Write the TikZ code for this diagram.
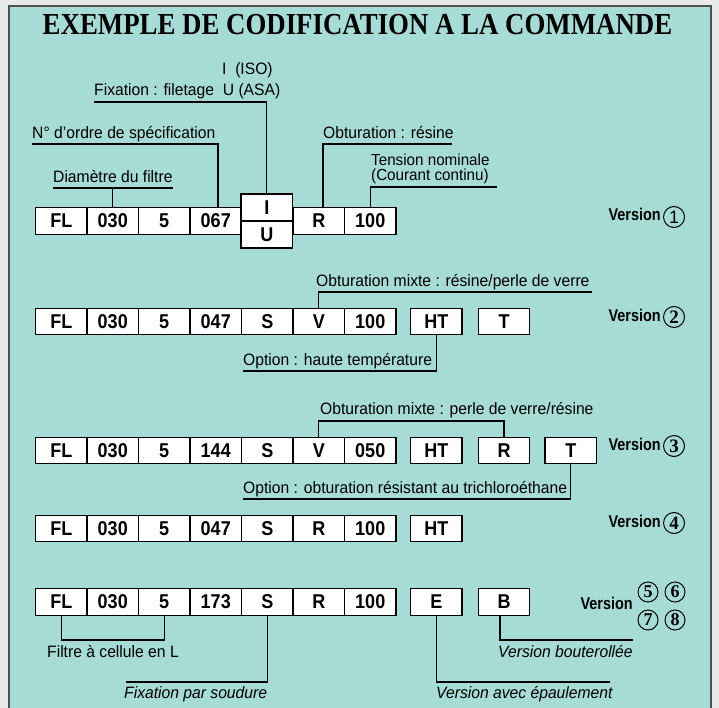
\documentclass[tikz,border=0pt]{standalone}
\usepackage{fontspec}
\setmainfont{Liberation Sans}
\newfontfamily\titlefont[FakeStretch=0.88]{Liberation Serif}
\newfontfamily\vfont[FakeStretch=0.85]{Liberation Sans}
\newfontfamily\labfont[FakeStretch=0.95]{Liberation Sans}
\newfontfamily\boxfont[FakeStretch=0.9]{Liberation Sans}
\newfontfamily\numfont{Liberation Serif}
\definecolor{outbg}{HTML}{E7E8EA}
\definecolor{panel}{HTML}{A7DCD6}
\definecolor{frame}{HTML}{505050}
\tikzset{
  cell/.style={draw=black, fill=white, line width=1.3pt, minimum width=51.5pt, minimum height=26.5pt, inner sep=0pt, font=\boxfont\bfseries\fontsize{20}{22}\selectfont},
  cellh/.style={cell, minimum height=27pt},
  lab/.style={anchor=base west, inner sep=0pt, font=\labfont\fontsize{16.5}{18}\selectfont},
  ilab/.style={lab, font=\labfont\itshape\fontsize{16.5}{18}\selectfont},
  conn/.style={line width=1.3pt, black},
  vtext/.style={anchor=base east, inner sep=0pt, font=\vfont\bfseries\fontsize{17}{18}\selectfont},
  circ/.style={circle, draw=black, line width=1pt, minimum size=21pt, inner sep=0pt, font=\numfont\bfseries\fontsize{19}{19}\selectfont}
}
\begin{document}
\begin{tikzpicture}[x=1pt,y=-1pt]
\useasboundingbox (0,0) rectangle (719,708);
\fill[outbg] (0,0) rectangle (719,708);
\fill[panel] (9,6) rectangle (711,708);
\draw[frame, line width=2pt] (9,708) -- (9,6) -- (711,6) -- (711,708);
\node[font=\titlefont\bfseries\fontsize{30.5}{32}\selectfont, inner sep=0pt] (title) at (357.5,25) {EXEMPLE DE CODIFICATION A LA COMMANDE};

% ---------- Row 1
\foreach \t [count=\i] in {FL,030,5,067} \node[cell] (r1-\i) at ({35.5+51.5*(\i-0.5)},221) {\t};
\node[cellh] (r1-5a) at (266.75,207.5) {I};
\node[cellh] (r1-5b) at (266.75,234.5) {U};
\node[cell] (r1-6) at ({35.5+51.5*5.5},221) {R};
\node[cell] (r1-7) at ({35.5+51.5*6.5},221) {100};

\node[lab] (lISO) at (222,75) {I\ \ (ISO)};
\node[lab] (lFix) at (94,96) {Fixation : filetage\ \ U (ASA)};
\coordinate (uFix) at (94,102);
\draw[conn] (uFix) -| (r1-5a.north);

\node[lab] (lOrd) at (32,139) {N° d’ordre de spécification};
\coordinate (uOrd) at (32,144);
\coordinate (vOrd) at (218,208);
\draw[conn] (uOrd) -| (vOrd);

\node[lab] (lDia) at (53,182.5) {Diamètre du filtre};
\coordinate (uDiaA) at (53,188);
\coordinate (uDiaB) at (173,188);
\draw[conn] (uDiaA) -- (uDiaB);
\draw[conn] (r1-2.north) -- (r1-2.north |- uDiaA);

\node[lab] (lObt) at (323,139) {Obturation : résine};
\coordinate (uObt) at (452,144);
\coordinate (vObt) at (323,208);
\draw[conn] (vObt) |- (uObt);

\node[lab, anchor=north west, align=left, font=\labfont\fontsize{16}{15.5}\selectfont] (lTen) at (371,153.5) {Tension nominale\\(Courant continu)};
\coordinate (uTen) at (497,187);
\draw[conn] (r1-7.north) |- (uTen);

\node[vtext] (v1) at (661,221) {Version};
\node[circ, font=\fontsize{18}{18}\selectfont] (c1) at (674,217) {1};

% ---------- Row 2
\foreach \t [count=\i] in {FL,030,5,047,S,V,100} \node[cell] (r2-\i) at ({35.5+51.5*(\i-0.5)},321.5) {\t};
\node[cell] (r2-HT) at (436.25,321.5) {HT};
\node[cell] (r2-T) at (504,321.5) {T};

\node[lab] (lMix2) at (316,287) {Obturation mixte : résine/perle de verre};
\coordinate (uMix2) at (592,292);
\draw[conn] (r2-6.north) |- (uMix2);

\node[lab] (lHT2) at (243,365) {Option : haute température};
\coordinate (uHT2) at (243,371);
\draw[conn] (r2-HT.south) |- (uHT2);

\node[vtext] (v2) at (661,321) {Version};
\node[circ] (c2) at (674,317) {2};

% ---------- Row 3
\foreach \t [count=\i] in {FL,030,5,144,S,V,050} \node[cell] (r3-\i) at ({35.5+51.5*(\i-0.5)},450.5) {\t};
\node[cell] (r3-HT) at (436.25,450.5) {HT};
\node[cell] (r3-R) at (504,450.5) {R};
\node[cell] (r3-T) at (570.75,450.5) {T};

\node[lab] (lMix3) at (320,414) {Obturation mixte : perle de verre/résine};
\coordinate (uMix3) at (320,421);
\draw[conn] (r3-6.north) |- (r3-R.north |- uMix3) -- (r3-R.north);

\node[lab] (lTri) at (243,493) {Option : obturation résistant au trichloroéthane};
\coordinate (uTri) at (243,499);
\draw[conn] (r3-T.south) |- (uTri);

\node[vtext] (v3) at (661,450) {Version};
\node[circ] (c3) at (674,446) {3};

% ---------- Row 4
\foreach \t [count=\i] in {FL,030,5,047,S,R,100} \node[cell] (r4-\i) at ({35.5+51.5*(\i-0.5)},528.5) {\t};
\node[cell] (r4-HT) at (436.25,528.5) {HT};

\node[vtext] (v4) at (661,527) {Version};
\node[circ] (c4) at (674,523) {4};

% ---------- Row 5
\foreach \t [count=\i] in {FL,030,5,173,S,R,100} \node[cell] (r5-\i) at ({35.5+51.5*(\i-0.5)},602) {\t};
\node[cell] (r5-E) at (436.25,602) {E};
\node[cell] (r5-B) at (504,602) {B};

\coordinate (bFL) at (61.25,640);
\draw[conn] (r5-1.south) -- (bFL) -| (r5-3.south);
\node[lab] (lFil) at (47,657.5) {Filtre à cellule en L};

\coordinate (uSou) at (126,682);
\draw[conn] (r5-5.south) |- (uSou);
\node[ilab] (lSou) at (124,698) {Fixation par soudure};

\coordinate (uEpa) at (610,682);
\draw[conn] (r5-E.south) |- (uEpa);
\node[ilab] (lEpa) at (436,698) {Version avec épaulement};

\coordinate (vB) at (500,615);
\coordinate (uBou) at (633,640);
\draw[conn] (vB) |- (uBou);
\node[ilab] (lBou) at (498,657.5) {Version bouterollée};

\node[vtext] (v5) at (633,609.5) {Version};
\node[circ, minimum size=20pt, font=\numfont\bfseries\fontsize{18}{18}\selectfont] (c5) at (648,592) {5};
\node[circ, minimum size=20pt, font=\numfont\bfseries\fontsize{18}{18}\selectfont] (c6) at (675,592) {6};
\node[circ, minimum size=20pt, font=\numfont\bfseries\fontsize{18}{18}\selectfont] (c7) at (648,620) {7};
\node[circ, minimum size=20pt, font=\numfont\bfseries\fontsize{18}{18}\selectfont] (c8) at (675,620) {8};
\end{tikzpicture}
\end{document}
